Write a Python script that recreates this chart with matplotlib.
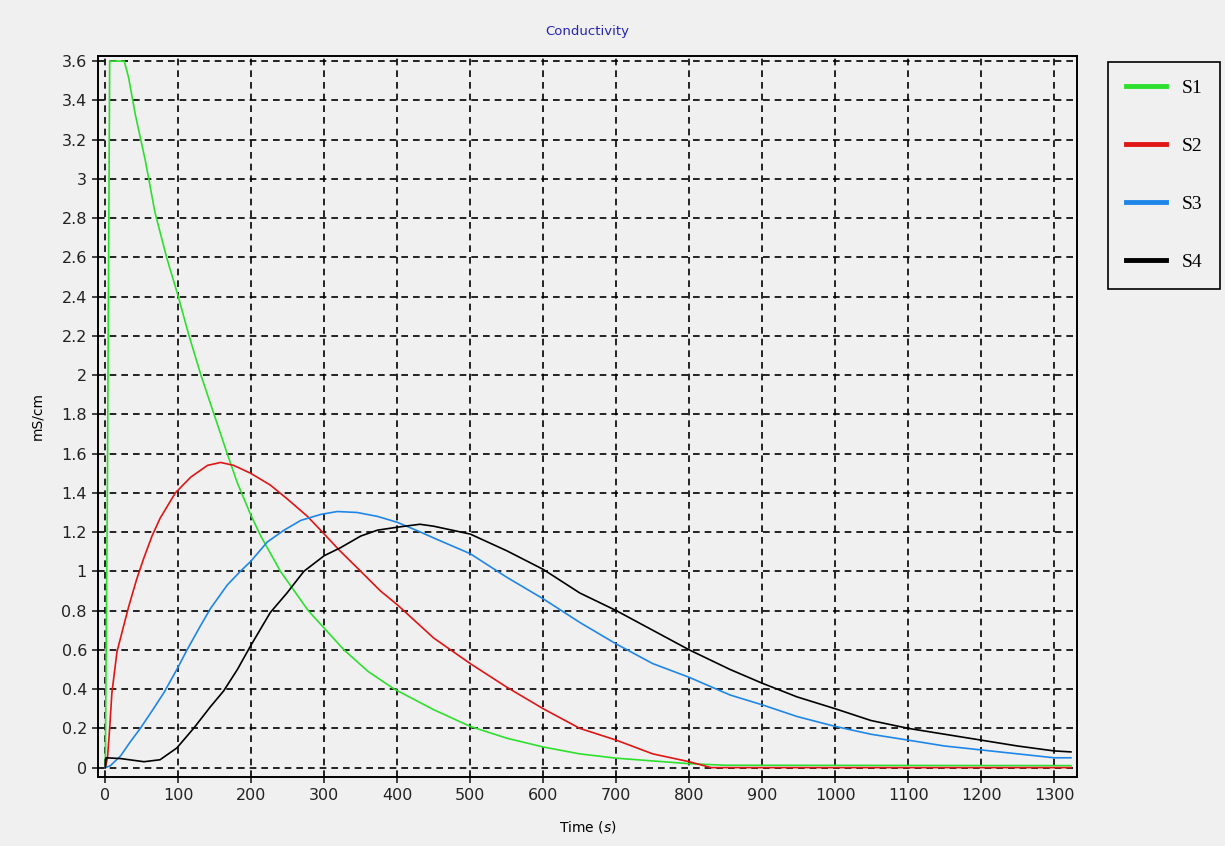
import matplotlib
matplotlib.use('Agg')
import matplotlib.pyplot as plt

# readings taken off the curves (time in s, conductivity in mS/cm)
s1_t = [0, 3, 6, 26, 32, 41, 55, 68, 84, 100, 114, 131, 149, 167, 181, 199, 213, 240, 278,
        327, 360, 396, 450, 500, 550, 600, 650, 700, 750, 800, 850, 1323]
s1_v = [0, 1.5, 3.6, 3.6, 3.515, 3.33, 3.09, 2.83, 2.60, 2.40, 2.21, 2.0, 1.80, 1.60, 1.45,
        1.29, 1.18, 1.0, 0.80, 0.60, 0.49, 0.40, 0.295, 0.21, 0.15, 0.105, 0.07, 0.048, 0.034,
        0.02, 0.012, 0.01]

s2_t = [0, 3, 6, 9, 16, 25, 32, 43, 53, 64, 75, 96, 117, 140, 158, 176, 199, 226, 249, 277,
        300, 320, 350, 377, 400, 450, 500, 550, 600, 650, 700, 750, 800, 830, 1323]
s2_v = [0, 0.05, 0.2, 0.38, 0.59, 0.72, 0.82, 0.96, 1.07, 1.18, 1.27, 1.40, 1.48, 1.54, 1.555,
        1.54, 1.50, 1.44, 1.37, 1.28, 1.19, 1.11, 1.00, 0.90, 0.83, 0.66, 0.53, 0.41, 0.30,
        0.20, 0.14, 0.07, 0.03, 0.0, 0.0]

s3_t = [0, 7, 21, 34, 48, 66, 80, 98, 112, 130, 144, 167, 185, 199, 222, 245, 268, 295, 318,
        345, 373, 400, 432, 450, 500, 550, 600, 650, 700, 750, 800, 856, 900, 948, 1000, 1049,
        1100, 1150, 1200, 1250, 1300, 1323]
s3_v = [0, 0.01, 0.06, 0.13, 0.20, 0.30, 0.38, 0.50, 0.60, 0.72, 0.81, 0.93, 1.00, 1.05, 1.15,
        1.21, 1.26, 1.29, 1.305, 1.30, 1.28, 1.25, 1.20, 1.17, 1.09, 0.97, 0.86, 0.74, 0.63,
        0.53, 0.46, 0.37, 0.32, 0.26, 0.21, 0.17, 0.14, 0.11, 0.09, 0.07, 0.05, 0.05]

s4_t = [0, 1, 21, 53, 75, 98, 121, 144, 162, 181, 199, 226, 249, 272, 300, 322, 350, 373, 400,
        431, 450, 500, 550, 600, 650, 700, 750, 800, 856, 900, 948, 1000, 1049, 1100, 1150,
        1200, 1250, 1300, 1323]
s4_v = [0, 0.05, 0.046, 0.03, 0.04, 0.10, 0.20, 0.31, 0.39, 0.50, 0.62, 0.79, 0.89, 1.00, 1.08,
        1.12, 1.18, 1.21, 1.225, 1.24, 1.23, 1.19, 1.105, 1.01, 0.89, 0.80, 0.70, 0.60, 0.50,
        0.43, 0.36, 0.30, 0.24, 0.20, 0.17, 0.14, 0.11, 0.085, 0.08]

x_ticks = list(range(0, 1301, 100))
y_ticks = [round(0.2 * i, 1) for i in range(19)]
y_labels = ['0', '0.2', '0.4', '0.6', '0.8', '1', '1.2', '1.4', '1.6', '1.8', '2', '2.2',
            '2.4', '2.6', '2.8', '3', '3.2', '3.4', '3.6']

bg = '#f0f0f0'
fig = plt.figure(figsize=(12.25, 8.46), dpi=100, facecolor=bg)
ax = fig.add_axes([0.080, 0.082, 0.799, 0.852], facecolor=bg)

ax.plot(s1_t, s1_v, color='#2ee02e', lw=1.2, label='S1')
ax.plot(s2_t, s2_v, color='#e01515', lw=1.2, label='S2')
ax.plot(s3_t, s3_v, color='#1f86e8', lw=1.2, label='S3')
ax.plot(s4_t, s4_v, color='black', lw=1.2, label='S4')

ax.set_xlim(-10, 1331)
ax.set_ylim(-0.046, 3.627)
ax.set_xticks(x_ticks)
ax.set_yticks(y_ticks)
ax.set_yticklabels(y_labels)
ax.tick_params(direction='inout', length=9, width=1.2, labelsize=11.5, colors='#222222')
ax.grid(True, color='black', linestyle=(0, (4, 3)), linewidth=1.2)
for sp in ax.spines.values():
    sp.set_linewidth(1.4)

ax.set_title('Conductivity', color='#2424b4', fontsize=9.5, pad=15)
ax.set_ylabel('mS/cm', fontsize=10, labelpad=12)
ax.set_xlabel('Time ($\\mathit{s}$)', fontsize=10, labelpad=12)

leg = fig.legend(loc='upper left', bbox_to_anchor=(1108 / 1225, 1 - 62 / 846),
                 prop={'family': 'Liberation Serif', 'size': 14}, frameon=True,
                 fancybox=False, edgecolor='black', facecolor=bg, framealpha=1,
                 handlelength=2.1, handletextpad=0.8, labelspacing=2.08, borderpad=0.9,
                 borderaxespad=0)
leg.get_frame().set_linewidth(1.2)
for h in leg.get_lines():
    h.set_linewidth(3.5)

fig.savefig('out.png', dpi=100, facecolor=bg)
